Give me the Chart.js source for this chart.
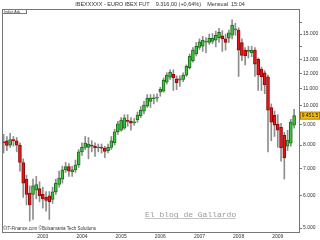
<!DOCTYPE html>
<html>
<head>
<meta charset="utf-8">
<script src="https://cdn.jsdelivr.net/npm/chart.js@4.4.0/dist/chart.umd.min.js"></script>
<style>
  html, body { margin: 0; padding: 0; background: #fff; }
</style>
</head>
<body>
<canvas id="chart" width="320" height="240"></canvas>
<script>
// Velas mensuales del futuro IBEX (ene 2002 - jun 2009)
const years = ["2002", "2003", "2004", "2005", "2006", "2007", "2008", "2009"];
const monthNums = ["01", "02", "03", "04", "05", "06", "07", "08", "09", "10", "11", "12"];

const opens = [8150, 8200, 8000, 8250, 8200, 8000, 7250, 6600, 6100, 6050, 6200, 6250,
  6050, 5950, 6000, 5880, 6140, 6400, 6600, 6950, 7080, 6880, 6950, 7150,
  7700, 7900, 7900, 8000, 7955, 7870, 7900, 7870, 7750, 7900, 8100, 8620,
  8710, 8800, 9200, 9160, 9080, 9220, 9430, 9700, 9970, 10240, 10400, 10440,
  10800, 10860, 11430, 11760, 11950, 11650, 11550, 11600, 11890, 12400, 12900, 13400,
  13900, 14000, 14320, 14300, 14400, 14500, 14700, 14850, 14600, 14650, 14900, 15350,
  15350, 14300, 13700, 13600, 13500, 13700, 13000, 12300, 12050, 11780, 9900, 9480,
  9010, 8850, 8470, 7950, 8090, 8960];
const highs = [8500, 8400, 8550, 8400, 8350, 8100, 7400, 6750, 6350, 6600, 6700, 6500,
  6300, 6150, 6150, 6300, 6600, 6900, 7100, 7250, 7200, 7100, 7350, 7800,
  8100, 8400, 8350, 8200, 8100, 8050, 8050, 7950, 8050, 8400, 8750, 9150,
  9350, 9500, 9500, 9350, 9300, 9650, 9950, 10250, 10650, 10650, 10650, 10700,
  11100, 11700, 12050, 12250, 12250, 11850, 11850, 12050, 12600, 13400, 13900, 14300,
  14600, 14800, 14700, 15000, 15050, 15250, 15500, 15300, 15000, 15350, 16250, 15950,
  15550, 14600, 13900, 14000, 14000, 13900, 13100, 12450, 12200, 11900, 10100, 9700,
  9500, 9050, 8600, 8700, 9250, 9800];
const lows = [7650, 7750, 7900, 7950, 7700, 6900, 5950, 5700, 5200, 5250, 5900, 5800,
  5600, 5500, 5250, 5750, 6050, 6300, 6450, 6850, 6700, 6700, 6850, 7050,
  7550, 7800, 7400, 7700, 7500, 7700, 7650, 7450, 7650, 7800, 8000, 8500,
  8650, 8750, 8900, 8700, 8950, 9100, 9350, 9550, 9900, 9900, 10100, 10250,
  10550, 10800, 11300, 11600, 10900, 10950, 11150, 11450, 11800, 12300, 12800, 13250,
  13750, 13600, 13500, 14150, 14200, 13950, 14300, 13600, 13700, 14300, 14600, 14900,
  11800, 12900, 12600, 13100, 13200, 11800, 10900, 10900, 10700, 7700, 8200, 8400,
  7900, 7300, 6600, 7750, 7950, 8800];
const closes = [8100, 7980, 8250, 8200, 8000, 7250, 6450, 6050, 5700, 6350, 6400, 6000,
  5900, 5850, 5800, 6140, 6450, 6640, 6950, 7080, 6900, 6950, 7150, 7700,
  7900, 8090, 8050, 7950, 7870, 7910, 7860, 7720, 7900, 8200, 8620, 9020,
  9220, 9330, 9150, 9060, 9130, 9480, 9750, 10030, 10440, 10440, 10460, 10500,
  10970, 11560, 11890, 12100, 11700, 11400, 11650, 11890, 12500, 13250, 13700, 14000,
  14350, 14500, 14380, 14650, 14650, 14900, 15150, 14600, 14300, 15100, 15780, 15450,
  13700, 13300, 13250, 13700, 13700, 12650, 11900, 11780, 11240, 9750, 9110, 8960,
  8710, 7870, 7450, 8230, 9110, 9450];

const yTicks = [5000, 6000, 7000, 8000, 9000, 10000, 11000, 12000, 13000, 14000, 15000, 16000];
const yHidden = [14000, 16000];
const lastPrice = 9451.5;
const lastPriceText = "9.451,5";
const titleText = "IBEXXXXX - EURO IBEX FUT    9.316,00 (+0,64%)    Mensual  15:04";
const panelText = "Indice Adv";
const creditText = "\u00a9IT-Finance.com \u00a9Bolsamania Tech Solutions";
const watermark = "El blog de Gallardo";

// 91 huecos: 90 velas + uno vacio a la derecha
const months = [];
years.forEach((y) => monthNums.forEach((m) => months.push(y + "-" + m)));
const slots = months.slice(0, 91);

const isUp = (i) => closes[i] >= opens[i];

function fmt(v) {
  return String(v).replace(/\B(?=(\d{3})+(?!\d))/g, ".");
}

const extras = {
  id: "extras",
  beforeDraw(chart) {
    const c = chart.ctx;
    c.save();
    c.fillStyle = "#fff";
    c.fillRect(0, 0, chart.width, chart.height);
    c.restore();
  },
  afterDraw(chart) {
    const c = chart.ctx;
    const a = chart.chartArea;
    c.save();
    // titulo
    c.fillStyle = "#333";
    c.font = '5.5px "Liberation Sans"';
    c.textAlign = "center";
    c.textBaseline = "middle";
    c.fillText(titleText, 160, 4);

    // marco
    c.strokeStyle = "#777";
    c.lineWidth = 1;
    c.beginPath();
    c.moveTo(a.left + 0.5, a.top);
    c.lineTo(a.left + 0.5, a.bottom);
    c.moveTo(a.left, a.top + 0.5);
    c.lineTo(a.right, a.top + 0.5);
    c.stroke();

    // etiqueta del panel
    c.strokeRect(a.left + 0.5, a.top + 0.5, 24, 4);
    c.fillStyle = "#333";
    c.font = '3.5px "Liberation Sans"';
    c.textAlign = "left";
    c.fillText(panelText, a.left + 2, a.top + 2.7);

    // creditos
    c.font = '4.5px "Liberation Sans"';
    c.textBaseline = "alphabetic";
    c.fillText(creditText, a.left + 1, a.bottom - 2);

    // marca de agua
    c.fillStyle = "#9a9a9a";
    c.font = '8px "Liberation Mono"';
    c.fillText(watermark, 145, 217);
    c.fillStyle = "#c4c4c4";
    c.fillRect(145, 218, 91, 1);

    // precio actual
    const py = chart.scales.y.getPixelForValue(lastPrice);
    c.fillStyle = "#f4c20d";
    c.fillRect(300.5, py - 3.5, 19, 7);
    c.strokeStyle = "#b07800";
    c.strokeRect(300.5, py - 3.5, 19, 7);
    c.fillStyle = "#111";
    c.font = '5px "Liberation Sans"';
    c.textAlign = "center";
    c.textBaseline = "middle";
    c.fillText(lastPriceText, 310, py + 0.3);
    c.restore();
  },
};

new Chart(document.getElementById("chart"), {
  type: "bar",
  data: {
    labels: slots,
    datasets: [
      {
        label: "cuerpo",
        data: opens.map((o, i) => [o, closes[i]]),
        backgroundColor: (ctx) => (isUp(ctx.dataIndex) ? "#3fc43f" : "#e3161b"),
        borderColor: (ctx) => (isUp(ctx.dataIndex) ? "#1e6a1e" : "#8c0a0a"),
        borderWidth: 1,
        borderSkipped: false,
        barThickness: 3,
        minBarLength: 1,
        grouped: false,
      },
      {
        label: "mecha",
        data: lows.map((l, i) => [l, highs[i]]),
        backgroundColor: "#8e8e8e",
        borderWidth: 0,
        barThickness: 1,
        grouped: false,
      },
    ],
  },
  options: {
    responsive: false,
    animation: false,
    layout: { padding: { left: 2, top: 9, right: 0, bottom: 0 } },
    plugins: {
      legend: { display: false },
      tooltip: { enabled: false },
      title: { display: false },
    },
    scales: {
      x: {
        type: "category",
        offset: true,
        grid: { display: false, drawTicks: false, tickLength: 0 },
        border: { display: true, color: "#777" },
        ticks: {
          autoSkip: false,
          maxRotation: 0,
          padding: 2,
          color: "#333",
          font: { family: "Liberation Sans", size: 5 },
          callback: function (value) {
            const lab = this.getLabelForValue(value);
            return lab.endsWith("-01") && lab !== "2002-01" ? lab.slice(0, 4) : "";
          },
        },
        afterFit: (s) => { s.height = 8; },
      },
      y: {
        type: "logarithmic",
        position: "right",
        min: 4890,
        max: 17290,
        bounds: "data",
        grid: { drawOnChartArea: false, drawTicks: true, tickLength: 3, color: "#777" },
        border: { display: true, color: "#777" },
        ticks: {
          padding: 1,
          color: "#333",
          font: { family: "Liberation Sans", size: 5 },
          callback: (v) => (yHidden.includes(v) ? "" : fmt(v)),
        },
        afterBuildTicks: (s) => { s.ticks = yTicks.map((v) => ({ value: v })); },
        afterFit: (s) => { s.width = 21; },
      },
    },
  },
  plugins: [extras],
});
</script>
</body>
</html>
